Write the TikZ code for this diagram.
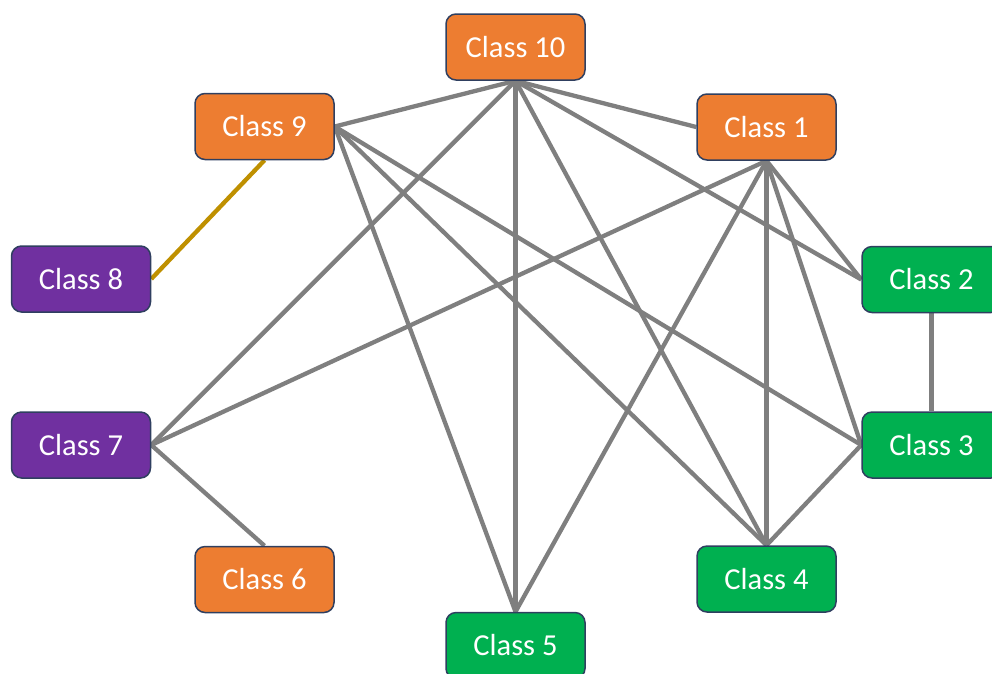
\documentclass[tikz,border=0pt]{standalone}
\usepackage{fontspec}
\setmainfont{Carlito}
\usetikzlibrary{backgrounds}
\definecolor{corange}{HTML}{ED7D31}
\definecolor{cgreen}{HTML}{00B050}
\definecolor{cpurple}{HTML}{7030A0}
\definecolor{cborder}{HTML}{2F3F60}
\definecolor{cline}{HTML}{7F7F7F}
\definecolor{cgold}{HTML}{BF9000}
\tikzset{
  classbox/.style={draw=cborder, line width=1.5pt, rounded corners=10pt,
    minimum width=139pt, minimum height=66pt, inner sep=0pt,
    text=white, font=\fontsize{30.5}{35}\selectfont},
  orangebox/.style={classbox, fill=corange},
  greenbox/.style={classbox, fill=cgreen},
  purplebox/.style={classbox, fill=cpurple},
  link/.style={draw=cline, line width=4.3pt},
  goldlink/.style={draw=cgold, line width=4.3pt}
}
\begin{document}
\begin{tikzpicture}[x=1pt,y=-1pt]
\useasboundingbox (0,0) rectangle (992,673);
\clip (0,0) rectangle (992,673);
\node[orangebox] (c10) at (515.5,47) {Class 10};
\node[orangebox] (c9) at (264.5,126.5) {Class 9};
\node[orangebox] (c1) at (766.5,127) {Class 1};
\node[purplebox] (c8) at (81,279) {Class 8};
\node[greenbox] (c2) at (931.5,279.5) {Class 2};
\node[purplebox] (c7) at (81,445) {Class 7};
\node[greenbox] (c3) at (931.5,445) {Class 3};
\node[orangebox] (c6) at (264.5,579.5) {Class 6};
\node[greenbox] (c4) at (766.5,579) {Class 4};
\node[greenbox] (c5) at (515.5,645.5) {Class 5};
\begin{scope}[on background layer]
\draw[link] (c10.south) -- (c9.east);
\draw[link] (c10.south) -- (c7.east);
\draw[link] (c10.south) -- (c5.north);
\draw[link] (c10.south) -- (c4.north);
\draw[link] (c10.south) -- (c1.west);
\draw[link] (c10.south) -- (c2.west);
\draw[link] (c9.east) -- (c3.west);
\draw[link] (c9.east) -- (c4.north);
\draw[link] (c9.east) -- (c5.north);
\draw[goldlink] (c9.south) -- (c8.east);
\draw[link] (c1.south) -- (c7.east);
\draw[link] (c1.south) -- (c5.north);
\draw[link] (c1.south) -- (c4.north);
\draw[link] (c1.south) -- (c3.west);
\draw[link] (c1.south) -- (c2.west);
\draw[link] (c2.south) -- (c3.north);
\draw[link] (c3.west) -- (c4.north);
\draw[link] (c7.east) -- (c6.north);
\end{scope}
\end{tikzpicture}
\end{document}
